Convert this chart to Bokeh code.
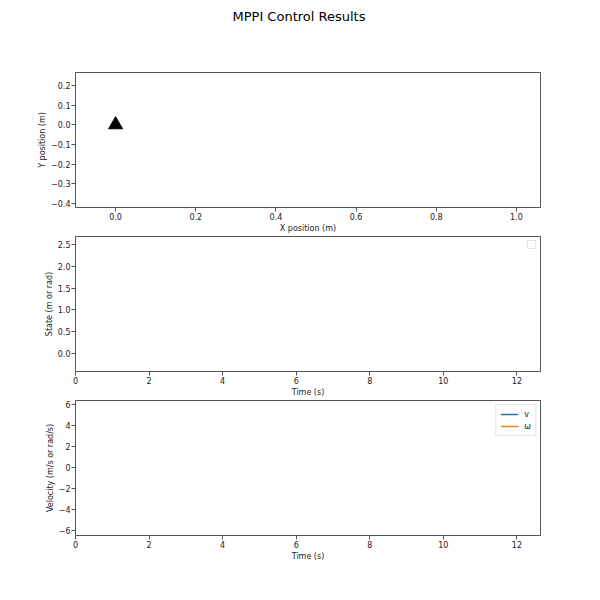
from bokeh.plotting import figure
from bokeh.layouts import column
from bokeh.models import Range1d, Legend, LegendItem, FixedTicker, CustomJSTickFormatter, Title
from bokeh.core.properties import value
from bokeh.embed import file_html
from bokeh.resources import INLINE

# ---- data ----
title_text = "MPPI Control Results"
robot_x = [0.0]
robot_y = [0.0]
# no samples recorded yet: single empty (NaN) sample
time_s = [0.0]
state_vals = [float("nan")]
v_vals = [float("nan")]
omega_vals = [float("nan")]

xpos_ticks = [0.0, 0.2, 0.4, 0.6, 0.8, 1.0]
ypos_ticks = [-0.4, -0.3, -0.2, -0.1, 0.0, 0.1, 0.2]
time_ticks = [0, 2, 4, 6, 8, 10, 12]
state_ticks = [0.0, 0.5, 1.0, 1.5, 2.0, 2.5]
vel_ticks = [-6, -4, -2, 0, 2, 4, 6]

xpos_range = (-0.1, 1.06)
ypos_range = (-0.42, 0.265)
time_range = (0, 12.64)
state_range = (-0.42, 2.69)
vel_range = (-6.45, 6.42)

FONT = "DejaVu Sans"
GRAY = "#555555"
TXT = "#222222"


def fmt(digits):
    return CustomJSTickFormatter(args=dict(d=digits),
                                 code="return tick.toFixed(d).replace('-', '\u2212');")


def style(p, xlabel, ylabel, xt, yt, xd, yd):
    p.grid.visible = False
    p.outline_line_color = GRAY
    p.outline_line_width = 1
    p.outline_line_alpha = 1
    p.background_fill_color = "white"
    p.border_fill_color = "white"
    for ax, lab, ticks, d in ((p.xaxis[0], xlabel, xt, xd), (p.yaxis[0], ylabel, yt, yd)):
        ax.axis_label = lab
        ax.ticker = FixedTicker(ticks=ticks)
        ax.formatter = fmt(d)
        ax.axis_line_color = None
        ax.major_tick_line_color = GRAY
        ax.major_tick_in = 0
        ax.major_tick_out = 4
        ax.minor_tick_line_color = None
        ax.major_label_text_font = FONT
        ax.major_label_text_font_size = "8px"
        ax.major_label_text_color = TXT
        ax.axis_label_text_font = FONT
        ax.axis_label_text_font_size = "8px"
        ax.axis_label_text_font_style = "normal"
        ax.axis_label_text_color = TXT
        ax.major_label_standoff = 1
        ax.axis_label_standoff = 1


def make(xr, yr, top, bottom, title=None):
    return figure(frame_width=465, frame_height=135,
                  min_border_left=75, min_border_right=52,
                  min_border_top=top, min_border_bottom=bottom,
                  x_range=Range1d(*xr), y_range=Range1d(*yr),
                  title=title,
                  output_backend="svg", toolbar_location=None)


# ---- plot 1: position ----
p1 = make(xpos_range, ypos_range, 72, 27)
# spacer between frame and the suptitle (added first = nearest the frame)
p1.add_layout(Title(text=" ", text_font_size="1px", standoff=41), "above")
p1.add_layout(Title(text=title_text, align="left", offset=157,
                    text_font=FONT, text_font_size="13px",
                    text_font_style="normal", text_color="black",
                    standoff=10), "above")
style(p1, "X position (m)", "Y position (m)", xpos_ticks, ypos_ticks, 1, 1)
p1.scatter(robot_x, robot_y, marker="triangle", size=14,
           fill_color="black", line_color="black")

# ---- plot 2: state ----
p2 = make(time_range, state_range, 1, 27)
style(p2, "Time (s)", "State (m or rad)", time_ticks, state_ticks, 0, 1)
dummy = p2.line(time_s, state_vals, line_alpha=0)
leg2 = Legend(items=[LegendItem(label=value(""), renderers=[dummy])],
              location="top_right", glyph_width=1, glyph_height=1,
              label_width=0, label_height=0, label_standoff=0,
              label_text_font_size="1px", padding=3, margin=4, spacing=0,
              border_line_color="#cccccc", border_line_width=1,
              background_fill_alpha=1)
p2.add_layout(leg2)

# ---- plot 3: velocity ----
p3 = make(time_range, vel_range, 1, 30)
style(p3, "Time (s)", "Velocity (m/s or rad/s)", time_ticks, vel_ticks, 0, 0)
lv = p3.line(time_s, v_vals, line_color="#1f77b4", line_width=1.5)
lw = p3.line(time_s, omega_vals, line_color="#ff7f0e", line_width=1.5)
leg3 = Legend(items=[LegendItem(label="v", renderers=[lv]),
                     LegendItem(label="ω", renderers=[lw])],
              location="top_right", glyph_width=18, glyph_height=10,
              label_width=0, label_height=10, label_standoff=6,
              spacing=2, padding=4, margin=4,
              label_text_font=FONT, label_text_font_size="8px",
              label_text_color=TXT,
              border_line_color="#cccccc", border_line_width=1,
              background_fill_alpha=1)
p3.add_layout(leg3)

layout = column(p1, p2, p3, spacing=0)
open("out.html", "w").write(file_html(layout, INLINE))
